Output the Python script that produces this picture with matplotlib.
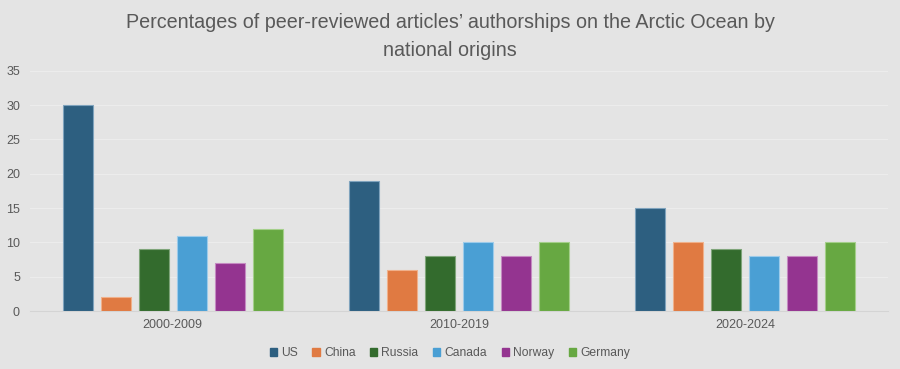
import numpy as np
import matplotlib.pyplot as plt
from matplotlib.patches import Patch

# --- data ---
periods = ["2000-2009", "2010-2019", "2020-2024"]
countries = ["US", "China", "Russia", "Canada", "Norway", "Germany"]
us = [30, 19, 15]
china = [2, 6, 10]
russia = [9, 8, 9]
canada = [11, 10, 8]
norway = [7, 8, 8]
germany = [12, 10, 10]
yticks = [0, 5, 10, 15, 20, 25, 30, 35]

series = [us, china, russia, canada, norway, germany]
colors = ["#2d5f80", "#e07a42", "#336b2d", "#4a9fd4", "#943490", "#67a842"]
edges = ["#7fa3bd", "#f0b08a", "#7fa57a", "#9ccbea", "#c58ac2", "#a4cf8a"]

BG = "#e4e4e4"
TXT = "#595959"

fig = plt.figure(figsize=(9, 3.69), dpi=100, facecolor=BG)
ax = fig.add_axes([0.033, 0.157, 0.954, 0.651], facecolor=BG)

x = np.arange(len(periods))
step = 0.133
width = 0.105
for i, (vals, c, ec) in enumerate(zip(series, colors, edges)):
    ax.bar(x + (i - 2.5) * step, vals, width, color=c, edgecolor=ec,
           linewidth=0.8, label=countries[i], zorder=3)

ax.set_xlim(-0.5, 2.5)
ax.set_ylim(0, 35)
ax.set_yticks(yticks)
ax.set_xticks(x)
ax.set_xticklabels(periods)
ax.grid(axis="y", color="#ececec", linewidth=0.8, zorder=0)
for s in ["top", "right", "left"]:
    ax.spines[s].set_visible(False)
ax.spines["bottom"].set_color("#d4d4d4")
ax.tick_params(length=0, colors=TXT, labelsize=9)
ax.tick_params(axis="x", pad=6)
ax.tick_params(axis="y", pad=7)
for lab in ax.get_xticklabels() + ax.get_yticklabels():
    lab.set_family("Liberation Sans")

fig.text(0.5, 0.965, "Percentages of peer-reviewed articles\u2019 authorships on the Arctic Ocean by\nnational origins",
         ha="center", va="top", fontsize=14.2, color=TXT, family="Liberation Sans",
         linespacing=1.6)

handles = [Patch(facecolor=c, edgecolor=c) for c in colors]
fig.legend(handles, countries, loc="center", bbox_to_anchor=(0.5, 0.043), ncol=6,
           frameon=False, handlelength=0.6, handleheight=0.6,
           handletextpad=0.35, columnspacing=1.2, labelcolor=TXT,
           prop={"family": "Liberation Sans", "size": 8.7})

fig.savefig("out.png", dpi=100, facecolor=BG)
